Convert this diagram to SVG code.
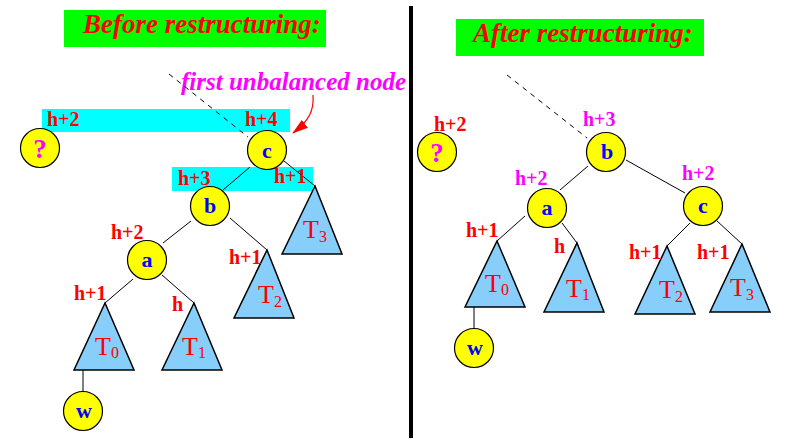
<svg xmlns="http://www.w3.org/2000/svg" width="792" height="440" viewBox="0 0 792 440">
<style>
.node circle{fill:#ffff00;stroke:#000;stroke-width:1.2}
.ltr{font-family:"Liberation Serif","Times New Roman",serif;font-weight:bold;font-size:22px;fill:#0000ff;text-anchor:middle}
.q{font-family:"Liberation Serif","Times New Roman",serif;font-weight:bold;font-size:27px;fill:#ff00ff;text-anchor:middle}
.tri polygon{fill:#87cefa;stroke:#000;stroke-width:1.5}
.tl{font-family:"Liberation Serif","Times New Roman",serif;font-size:26px;fill:#ff0000}
.sub{font-size:16px}
.lbl{font-family:"Liberation Serif","Times New Roman",serif;font-weight:bold;font-size:20px;fill:#ff0000}
.mg{fill:#ff00ff}
.title{font-family:"Liberation Serif","Times New Roman",serif;font-weight:bold;font-style:italic;font-size:27px;fill:#ff0000}
.edges line{stroke:#000;stroke-width:1}
.dash{stroke:#000;stroke-width:1;stroke-dasharray:5,5}
</style>
<defs>
<marker id="ah" markerWidth="16" markerHeight="10" refX="15" refY="5" orient="auto" markerUnits="userSpaceOnUse">
<path d="M0,0 L16,5 L0,10 Z" fill="#ff0000"/>
</marker>
</defs>
<rect width="792" height="440" fill="#fff"/>

<!-- titles -->
<g id="title-before">
<rect x="64" y="10" width="262" height="37" fill="#00ff00"/>
<text class="title" x="83" y="33">Before restructuring:</text>
</g>
<g id="title-after">
<rect x="456" y="19" width="248" height="37" fill="#00ff00"/>
<text class="title" x="473" y="42">After restructuring:</text>
</g>

<!-- divider -->
<rect id="divider" x="409" y="6" width="4" height="432" fill="#000"/>

<!-- highlight bands -->
<rect x="42" y="109" width="248" height="23" fill="#00ffff"/>
<rect x="172" y="167" width="141" height="24" fill="#00ffff"/>

<g id="annotation">
<text x="181" y="90" font-family="'Liberation Serif','Times New Roman',serif" font-weight="bold" font-style="italic" font-size="25" fill="#ff00ff">first unbalanced node</text>
<path d="M313,95 C314,110 310,120 293,133" fill="none" stroke="#ff0000" stroke-width="1.2" marker-end="url(#ah)"/>
</g>

<!-- connectors -->
<g class="edges">
<line class="dash" x1="169" y1="74" x2="248" y2="137"/>
<line x1="250" y1="167" x2="223" y2="190"/>
<line x1="284" y1="161" x2="315" y2="186"/>
<line x1="191" y1="221" x2="163" y2="243"/>
<line x1="230" y1="218" x2="267" y2="250"/>
<line x1="133" y1="279" x2="105" y2="303"/>
<line x1="162" y1="275" x2="194" y2="303"/>
<line x1="83" y1="370" x2="83" y2="392"/>
<line class="dash" x1="507" y1="75" x2="587" y2="138"/>
<line x1="588" y1="166" x2="560" y2="190"/>
<line x1="626" y1="160" x2="685" y2="193"/>
<line x1="525" y1="216" x2="497" y2="241"/>
<line x1="562" y1="223" x2="577" y2="243"/>
<line x1="690" y1="223" x2="667" y2="246"/>
<line x1="717" y1="221" x2="742" y2="244"/>
<line x1="474" y1="307" x2="474" y2="328"/>
</g>

<!-- left tree -->
<g id="q-left" class="node"><circle cx="40" cy="148" r="19.5"/><text class="q" x="40" y="158">?</text></g>
<g id="c-left" class="node"><circle cx="267" cy="150" r="19.5"/><text class="ltr" x="267" y="158">c</text></g>
<g id="b-left" class="node"><circle cx="210" cy="206" r="19.5"/><text class="ltr" x="210" y="213">b</text></g>
<g id="a-left" class="node"><circle cx="147" cy="260" r="19.5"/><text class="ltr" x="147" y="267">a</text></g>
<g id="w-left" class="node"><circle cx="83" cy="411" r="19.5"/><text class="ltr" x="84" y="418">w</text></g>
<g id="T0-left" class="tri"><polygon points="105,303 134,370 74,370"/><text class="tl" x="95" y="355">T<tspan class="sub" dy="3">0</tspan></text></g>
<g id="T1-left" class="tri"><polygon points="194,303 222,370 162,370"/><text class="tl" x="182" y="355">T<tspan class="sub" dy="3">1</tspan></text></g>
<g id="T2-left" class="tri"><polygon points="267,250 294,318 234,318"/><text class="tl" x="258" y="303">T<tspan class="sub" dy="4">2</tspan></text></g>
<g id="T3-left" class="tri"><polygon points="315,186 342,254 282,254"/><text class="tl" x="303" y="238">T<tspan class="sub" dy="4">3</tspan></text></g>

<g id="labels-left">
<text class="lbl" x="47" y="126">h+2</text>
<text class="lbl" x="245" y="126">h+4</text>
<text class="lbl" x="178" y="185">h+3</text>
<text class="lbl" x="274" y="183">h+1</text>
<text class="lbl" x="111" y="239">h+2</text>
<text class="lbl" x="74" y="300">h+1</text>
<text class="lbl" x="172" y="311">h</text>
<text class="lbl" x="229" y="264">h+1</text>
</g>

<!-- right tree -->
<g id="q-right" class="node"><circle cx="437" cy="152" r="19.5"/><text class="q" x="437" y="162">?</text></g>
<g id="b-right" class="node"><circle cx="606" cy="152" r="19.5"/><text class="ltr" x="607" y="159">b</text></g>
<g id="a-right" class="node"><circle cx="547" cy="208" r="19.5"/><text class="ltr" x="547" y="215">a</text></g>
<g id="c-right" class="node"><circle cx="703" cy="206" r="19.5"/><text class="ltr" x="703" y="213">c</text></g>
<g id="w-right" class="node"><circle cx="474" cy="348" r="19.5"/><text class="ltr" x="475" y="355">w</text></g>
<g id="T0-right" class="tri"><polygon points="497,241 525,307 465,307"/><text class="tl" x="485" y="292">T<tspan class="sub" dy="3">0</tspan></text></g>
<g id="T1-right" class="tri"><polygon points="577,243 604,312 544,312"/><text class="tl" x="566" y="297">T<tspan class="sub" dy="3">1</tspan></text></g>
<g id="T2-right" class="tri"><polygon points="667,246 695,314 635,314"/><text class="tl" x="659" y="298">T<tspan class="sub" dy="4">2</tspan></text></g>
<g id="T3-right" class="tri"><polygon points="742,244 770,312 710,312"/><text class="tl" x="730" y="296">T<tspan class="sub" dy="4">3</tspan></text></g>

<g id="labels-right">
<text class="lbl" x="434" y="131">h+2</text>
<text class="lbl mg" x="583" y="126">h+3</text>
<text class="lbl mg" x="515" y="185">h+2</text>
<text class="lbl mg" x="682" y="180">h+2</text>
<text class="lbl" x="466" y="237">h+1</text>
<text class="lbl" x="554" y="253">h</text>
<text class="lbl" x="629" y="259">h+1</text>
<text class="lbl" x="697" y="259">h+1</text>
</g>
</svg>
